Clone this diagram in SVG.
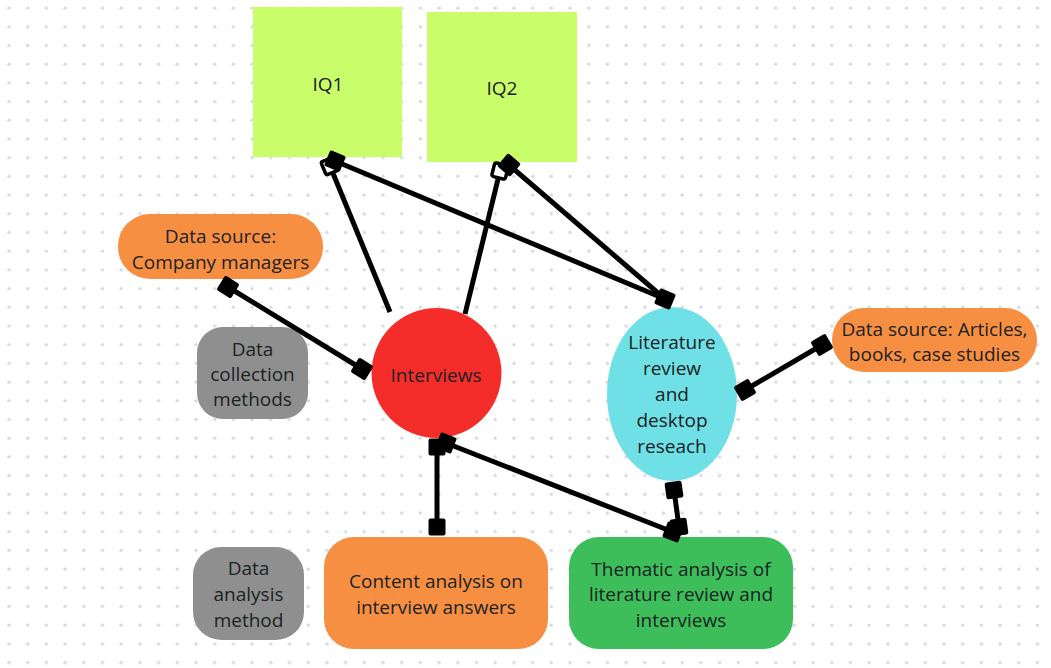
<svg xmlns="http://www.w3.org/2000/svg" width="1051" height="668" viewBox="0 0 1051 668">
<defs>
<pattern id="dots" x="0" y="0" width="18.7" height="18.7" patternUnits="userSpaceOnUse">
<circle cx="9" cy="8" r="1.7" fill="#d6d8e4"/>
</pattern>
<marker id="sq" viewBox="0 0 18 18" refX="9" refY="9" markerWidth="18" markerHeight="18" markerUnits="userSpaceOnUse" orient="auto">
<rect x="0.5" y="0.5" width="17" height="17" rx="2" fill="#000"/>
</marker>
<marker id="sqo" viewBox="0 0 18 18" refX="9" refY="9" markerWidth="18" markerHeight="18" markerUnits="userSpaceOnUse" orient="auto">
<rect x="2" y="2" width="14" height="14" rx="2" fill="#fff" stroke="#000" stroke-width="3.5"/>
</marker>
</defs>
<style>
.t{font-family:"Open Sans","Noto Sans","Liberation Sans",sans-serif;font-size:19px;fill:#1a2222;text-anchor:middle;dominant-baseline:central}
.c{fill:none;stroke:#000;stroke-width:5}
.iq{fill:#c9fd6a}
.or{fill:#f78f43}
.gr{fill:#8f8f8f}
</style>
<rect width="1051" height="668" fill="#fff"/>
<rect width="1051" height="668" fill="url(#dots)"/>

<g id="IQ1"><rect class="iq" x="253" y="7" width="149" height="150"/><text class="t" x="328" y="84">IQ1</text></g>
<g id="IQ2"><rect class="iq" x="427" y="12" width="150" height="150"/><text class="t" x="502" y="88">IQ2</text></g>
<g id="company"><rect class="or" x="118" y="214" width="205" height="65" rx="32"/><text class="t" x="220.5"><tspan x="220.5" y="236">Data source:</tspan><tspan x="220.5" y="262">Company managers</tspan></text></g>
<g id="collection"><rect class="gr" x="197" y="327" width="111" height="92" rx="26"/><text class="t"><tspan x="252.5" y="349">Data</tspan><tspan x="252.5" y="374">collection</tspan><tspan x="252.5" y="399">methods</tspan></text></g>
<g id="interviews"><circle cx="436.5" cy="373" r="65" fill="#f52d2a"/><text class="t" x="436" y="375">Interviews</text></g>
<g id="literature"><ellipse cx="672" cy="394" rx="65" ry="87" fill="#6fe0e6"/><text class="t"><tspan x="672" y="342">Literature</tspan><tspan x="672" y="368">review</tspan><tspan x="672" y="394">and</tspan><tspan x="672" y="420">desktop</tspan><tspan x="672" y="446">reseach</tspan></text></g>
<g id="articles"><rect class="or" x="832" y="308" width="205" height="64" rx="32"/><text class="t"><tspan x="934.5" y="329">Data source: Articles,</tspan><tspan x="934.5" y="354">books, case studies</tspan></text></g>
<g id="analysis"><rect class="gr" x="193" y="547" width="111" height="93" rx="28"/><text class="t"><tspan x="248.5" y="568">Data</tspan><tspan x="248.5" y="594">analysis</tspan><tspan x="248.5" y="620">method</tspan></text></g>
<g id="content"><rect class="or" x="324" y="537" width="224" height="112" rx="30"/><text class="t"><tspan x="436" y="581">Content analysis on</tspan><tspan x="436" y="607">interview answers</tspan></text></g>
<g id="thematic"><rect x="569" y="537" width="224" height="112" rx="30" fill="#3dbe5b"/><text class="t"><tspan x="681" y="569">Thematic analysis of</tspan><tspan x="681" y="594">literature review and</tspan><tspan x="681" y="620">interviews</tspan></text></g>

<g id="connectors">
<line class="c" x1="390" y1="312" x2="330" y2="166" marker-end="url(#sqo)"/>
<line class="c" x1="465" y1="314" x2="500" y2="171" marker-end="url(#sqo)"/>
<line class="c" x1="665" y1="299" x2="335" y2="161" marker-start="url(#sq)" marker-end="url(#sq)"/>
<line class="c" x1="665" y1="299" x2="509" y2="165" marker-end="url(#sq)"/>
<line class="c" x1="228" y1="287" x2="362" y2="369" marker-start="url(#sq)" marker-end="url(#sq)"/>
<line class="c" x1="745" y1="390" x2="822" y2="345" marker-start="url(#sq)" marker-end="url(#sq)"/>
<line class="c" x1="437" y1="447" x2="437" y2="527" marker-start="url(#sq)" marker-end="url(#sq)"/>
<line class="c" x1="446" y1="443" x2="673" y2="532" marker-start="url(#sq)" marker-end="url(#sq)"/>
<line class="c" x1="674" y1="490" x2="679" y2="527" marker-start="url(#sq)" marker-end="url(#sq)"/>
</g>
</svg>
